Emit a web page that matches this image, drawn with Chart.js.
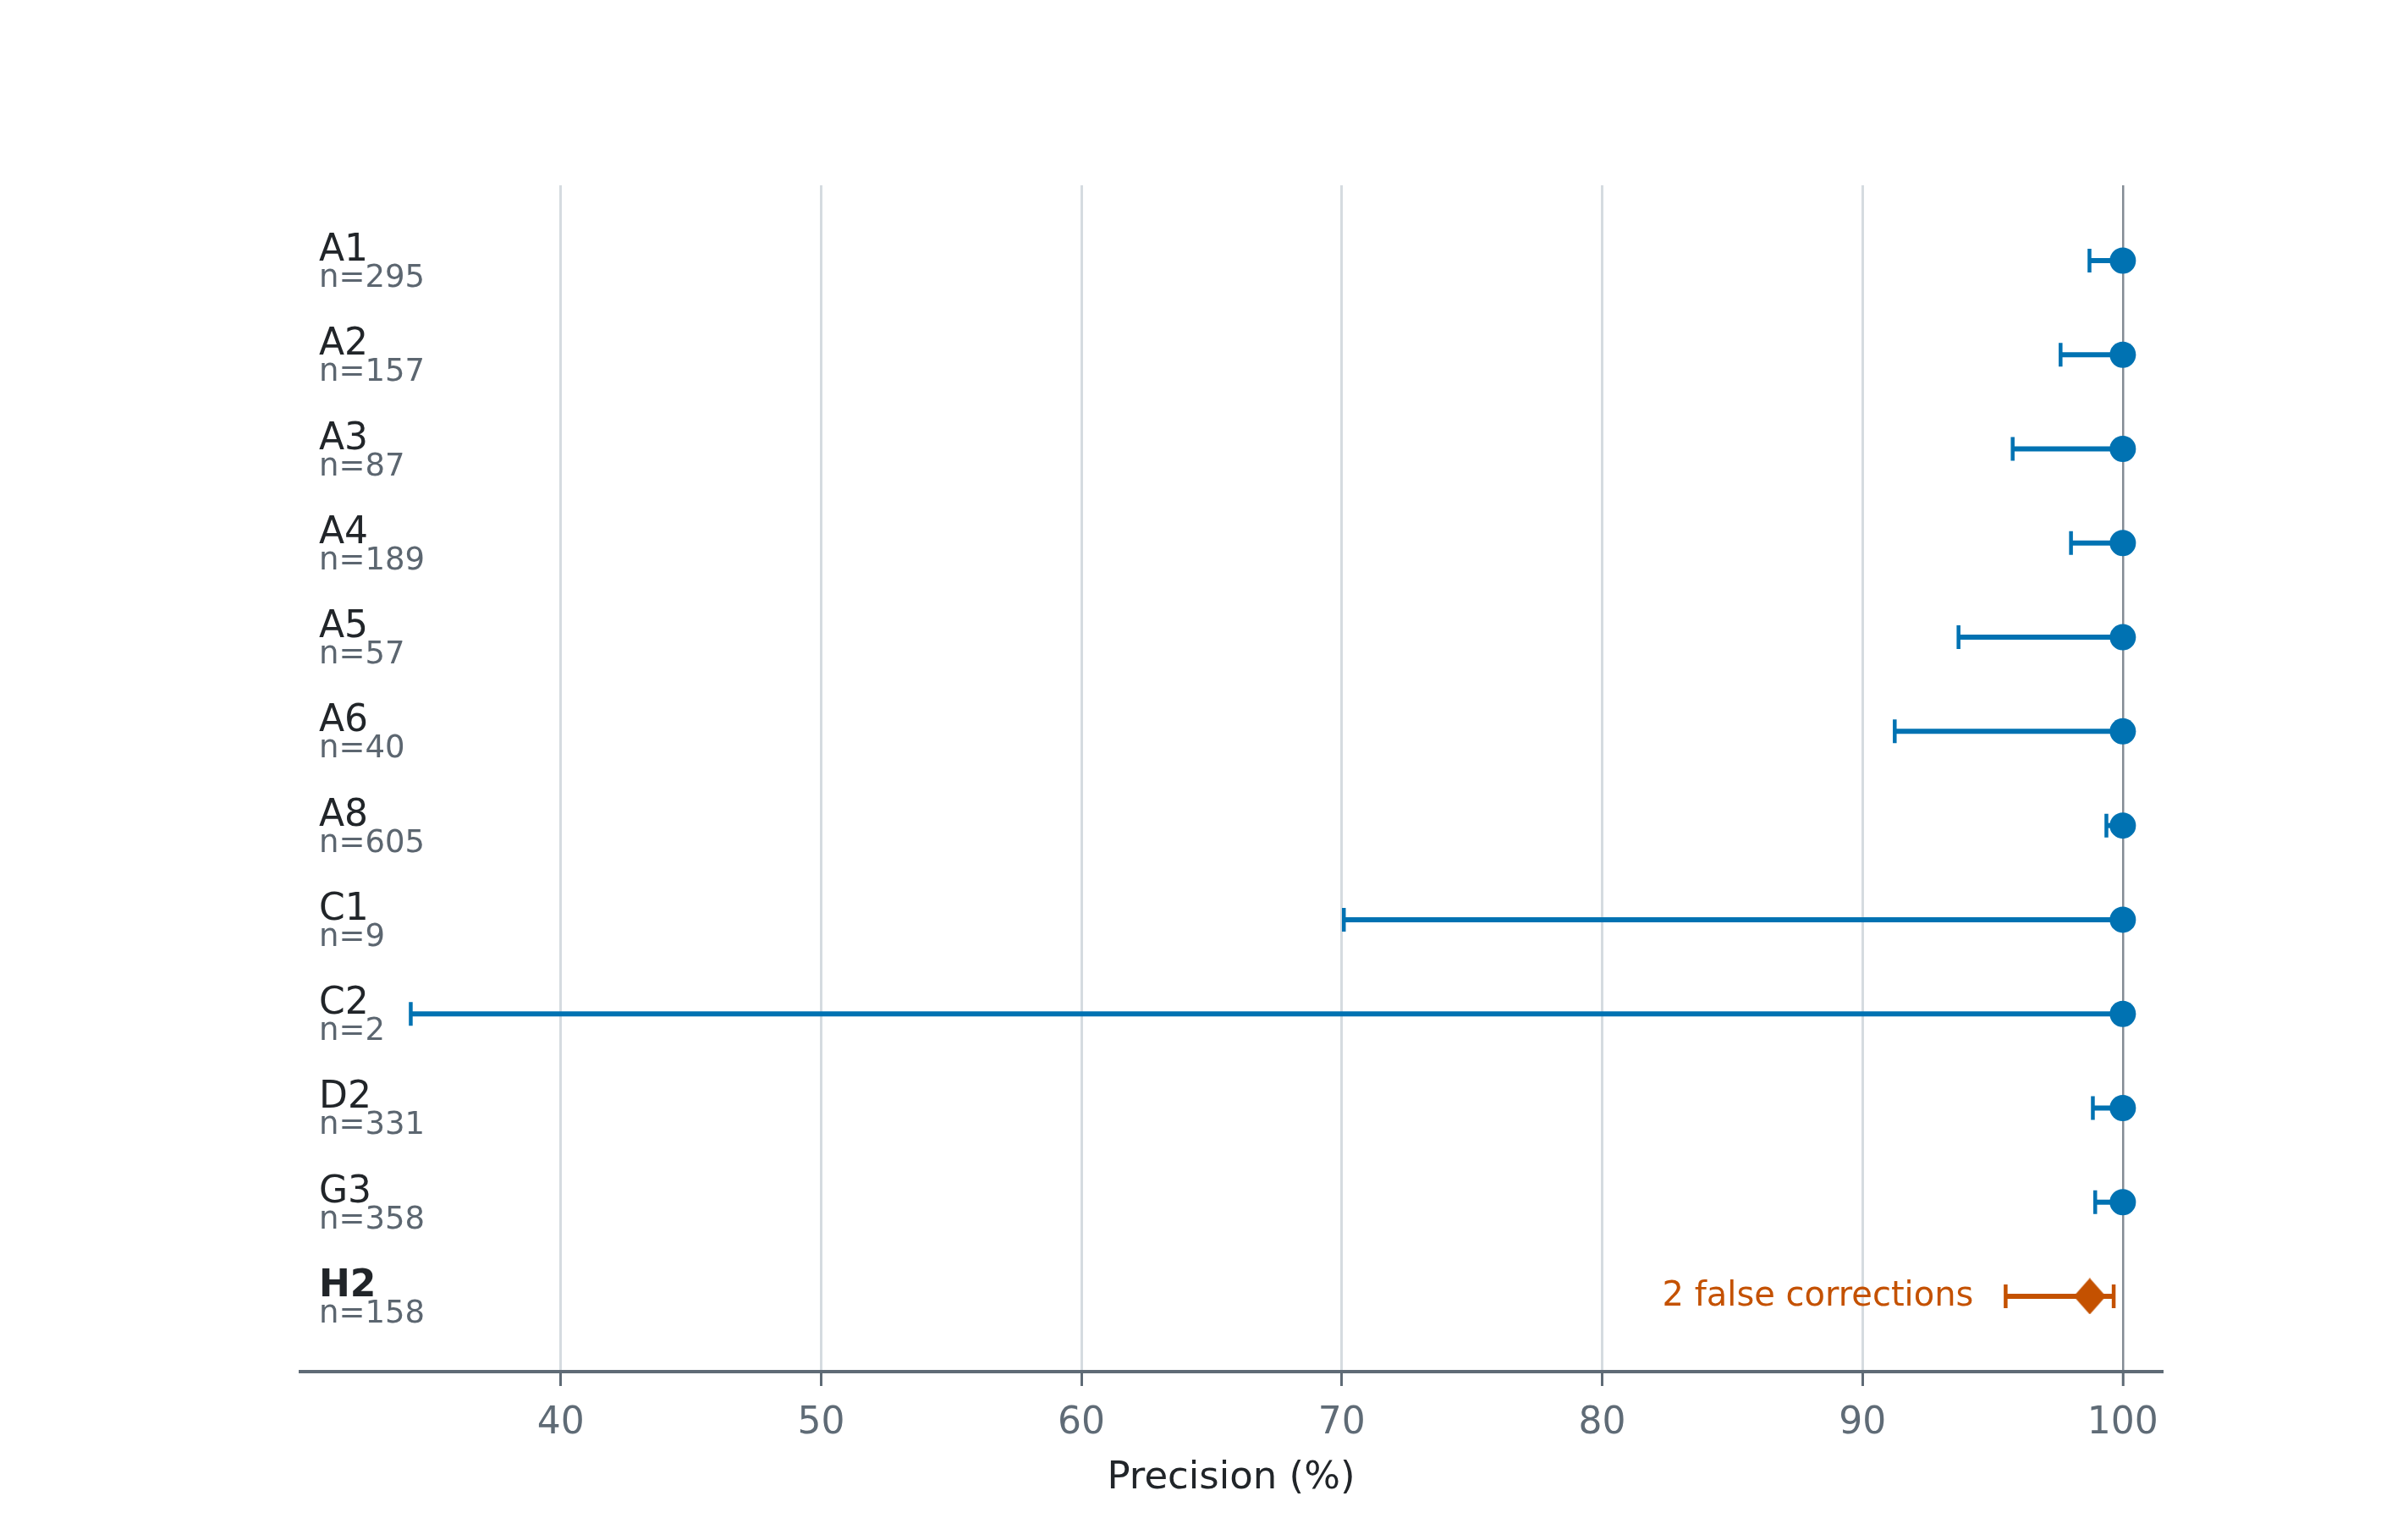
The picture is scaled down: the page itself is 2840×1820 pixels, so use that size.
<!DOCTYPE html>
<html>
<head>
<meta charset="utf-8">
<script src="https://cdn.jsdelivr.net/npm/chart.js@4/dist/chart.umd.min.js"></script>
<style>
  html, body { margin: 0; padding: 0; background: #ffffff; }
  canvas { display: block; }
</style>
</head>
<body>
<canvas id="precisionChart" width="2840" height="1820"></canvas>
<script>
// rows, top to bottom
const sites = ['A1', 'A2', 'A3', 'A4', 'A5', 'A6', 'A8', 'C1', 'C2', 'D2', 'G3', 'H2'];
const counts = [295, 157, 87, 189, 57, 40, 605, 9, 2, 331, 358, 158];
const precision = [100, 100, 100, 100, 100, 100, 100, 100, 100, 100, 100, 98.73];
const lowerCI = [98.72, 97.61, 95.77, 98.01, 93.69, 91.24, 99.37, 70.08, 34.24, 98.85, 98.94, 95.50];
const upperCI = [100, 100, 100, 100, 100, 100, 100, 100, 100, 100, 100, 99.65];
const xTicks = [40, 50, 60, 70, 80, 90, 100];
const highlightSite = 'H2';
const highlightNote = '2 false corrections';

const BLUE = '#0072b2';
const ORANGE = '#c45100';
const FONT = 'DejaVu Sans';

function colorFor(i) {
    return sites[i] === highlightSite ? ORANGE : BLUE;
}

const blueData = [];
const orangeData = [];
sites.forEach((s, i) => {
    const pt = { x: precision[i], y: i };
    if (s === highlightSite) orangeData.push(pt);
    else blueData.push(pt);
});

// diamond marker, a bit taller than wide
const diamond = document.createElement('canvas');
diamond.width = 38;
diamond.height = 43;
(function () {
    const c = diamond.getContext('2d');
    c.fillStyle = ORANGE;
    c.beginPath();
    c.moveTo(19, 0);
    c.lineTo(38, 21.5);
    c.lineTo(19, 43);
    c.lineTo(0, 21.5);
    c.closePath();
    c.fill();
})();

// error bars + caps, drawn under the points
const errorBars = {
    id: 'errorBars',
    beforeDatasetsDraw(chart) {
        const ctx = chart.ctx;
        const xs = chart.scales.x;
        const ys = chart.scales.y;
        ctx.save();
        ctx.lineCap = 'butt';
        sites.forEach((s, i) => {
            const y = ys.getPixelForValue(i);
            const x0 = xs.getPixelForValue(lowerCI[i]);
            const x1 = xs.getPixelForValue(upperCI[i]);
            ctx.strokeStyle = colorFor(i);
            ctx.lineWidth = 6;
            ctx.beginPath();
            ctx.moveTo(x0, y);
            ctx.lineTo(x1, y);
            ctx.stroke();
            ctx.lineWidth = 4.5;
            ctx.beginPath();
            ctx.moveTo(x0, y - 14);
            ctx.lineTo(x0, y + 14);
            ctx.moveTo(x1, y - 14);
            ctx.lineTo(x1, y + 14);
            ctx.stroke();
        });
        ctx.restore();
    }
};

// row names, sample sizes and the note on the highlighted row
const rowLabels = {
    id: 'rowLabels',
    afterDraw(chart) {
        const ctx = chart.ctx;
        const xs = chart.scales.x;
        const ys = chart.scales.y;
        const left = chart.chartArea.left + 22;
        ctx.save();
        ctx.textAlign = 'left';
        ctx.textBaseline = 'alphabetic';
        sites.forEach((s, i) => {
            const y = ys.getPixelForValue(i);
            ctx.fillStyle = '#212529';
            ctx.font = (s === highlightSite ? 'bold ' : '') + '44px "' + FONT + '"';
            ctx.fillText(s, left, y);
            ctx.fillStyle = '#5c6670';
            ctx.font = '37px "' + FONT + '"';
            ctx.fillText('n=' + counts[i], left, y + 31);
            if (s === highlightSite) {
                ctx.fillStyle = ORANGE;
                ctx.font = '40px "' + FONT + '"';
                ctx.textAlign = 'right';
                ctx.textBaseline = 'middle';
                ctx.fillText(highlightNote, xs.getPixelForValue(lowerCI[i]) - 38, y + 1);
                ctx.textAlign = 'left';
                ctx.textBaseline = 'alphabetic';
            }
        });
        ctx.restore();
    }
};

new Chart(document.getElementById('precisionChart'), {
    type: 'scatter',
    data: {
        datasets: [{
            label: 'precision',
            data: blueData,
            backgroundColor: BLUE,
            borderColor: BLUE,
            borderWidth: 0,
            pointRadius: 15.5,
            pointStyle: 'circle',
            clip: false
        }, {
            label: highlightSite,
            data: orangeData,
            backgroundColor: ORANGE,
            borderColor: ORANGE,
            borderWidth: 0,
            pointRadius: 20,
            pointStyle: diamond,
            clip: false
        }]
    },
    options: {
        responsive: false,
        animation: false,
        devicePixelRatio: 1,
        layout: { padding: { left: 355, right: 285, top: 219, bottom: 0 } },
        plugins: {
            legend: { display: false },
            tooltip: { enabled: false }
        },
        scales: {
            x: {
                type: 'linear',
                min: 30,
                max: 101.5,
                afterBuildTicks: scale => { scale.ticks = xTicks.map(v => ({ value: v })); },
                afterFit: scale => { scale.height = 199; },
                grid: {
                    color: c => (c.tick && c.tick.value === 100) ? '#848c95' : '#d5dbe0',
                    lineWidth: c => (c.tick && c.tick.value === 100) ? 2.5 : 3,
                    tickColor: '#5f6b76',
                    tickLength: 17,
                    tickWidth: 3
                },
                border: { color: '#5f6b76', width: 4 },
                ticks: {
                    color: '#5f6b76',
                    font: { family: FONT, size: 44 },
                    padding: 18,
                    maxRotation: 0,
                    callback: v => String(v)
                },
                title: {
                    display: true,
                    text: 'Precision (%)',
                    color: '#212529',
                    font: { family: FONT, size: 45 },
                    padding: { top: 0, bottom: 46 }
                }
            },
            y: {
                type: 'linear',
                reverse: true,
                min: -0.8,
                max: 11.8,
                display: false
            }
        }
    },
    plugins: [errorBars, rowLabels]
});
</script>
</body>
</html>
